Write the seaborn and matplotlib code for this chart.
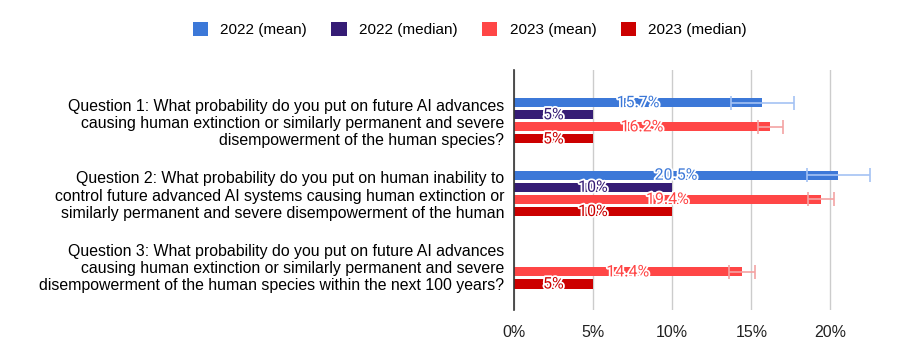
import numpy as np
import pandas as pd
import matplotlib.pyplot as plt
import matplotlib.patheffects as pe
import seaborn as sns

questions = [
    "Question 1: What probability do you put on future AI advances\n"
    "causing human extinction or similarly permanent and severe\n"
    "disempowerment of the human species?",
    "Question 2: What probability do you put on human inability to\n"
    "control future advanced AI systems causing human extinction or\n"
    "similarly permanent and severe disempowerment of the human",
    "Question 3: What probability do you put on future AI advances\n"
    "causing human extinction or similarly permanent and severe\n"
    "disempowerment of the human species within the next 100 years?",
]
series = ["2022 (mean)", "2022 (median)", "2023 (mean)", "2023 (median)"]

mean_2022 = [15.7, 20.5, np.nan]
median_2022 = [5, 10, np.nan]
mean_2023 = [16.2, 19.4, 14.4]
median_2023 = [5, 10, 5]

# confidence intervals on the means
ci_2022_low = [13.7, 18.5, np.nan]
ci_2022_high = [17.7, 22.5, np.nan]
ci_2023_low = [15.4, 18.6, 13.6]
ci_2023_high = [17.0, 20.2, 15.2]

colors = ["#3c78d8", "#351c75", "#ff4646", "#cc0000"]
err_colors = {"2022 (mean)": "#a4c2f4", "2023 (mean)": "#f4a3a3"}

values = [mean_2022, median_2022, mean_2023, median_2023]
rows = []
for s, vals in zip(series, values):
    for q, v in zip(questions, vals):
        rows.append({"question": q, "series": s, "value": v})
df = pd.DataFrame(rows).dropna()

errors = {
    "2022 (mean)": (ci_2022_low, ci_2022_high),
    "2023 (mean)": (ci_2023_low, ci_2023_high),
}

plt.rcParams["font.family"] = ["Liberation Sans", "DejaVu Sans"]
fig = plt.figure(figsize=(9, 3.52), dpi=100)
ax = fig.add_axes([0.571, 0.119, 0.401, 0.682])

sns.barplot(data=df, y="question", x="value", hue="series", order=questions,
            hue_order=series, palette=colors, orient="h", width=0.667, gap=0.25,
            errorbar=None, ax=ax, saturation=1)

for container, s, col in zip(ax.containers, series, colors):
    labels = [f"{v:g}%" for v in container.datavalues]
    txts = ax.bar_label(container, labels=labels, label_type="center", fontsize=11.5,
                        color=col, family=["Roboto", "DejaVu Sans"])
    for t in txts:
        t.set_path_effects([pe.withStroke(linewidth=2.6, foreground="white")])
    if s in errors:
        lo, hi = errors[s]
        for bar in container:
            yc = bar.get_y() + bar.get_height() / 2
            q = int(round(yc))
            ax.errorbar(x=(lo[q] + hi[q]) / 2, y=yc, xerr=(hi[q] - lo[q]) / 2,
                        fmt="none", ecolor=err_colors[s], elinewidth=1.2,
                        capsize=5, capthick=1.2, zorder=3)

ax.set_xlim(0, 22.8)
ax.set_ylim(2.61, -0.70)
ax.set_xticks([0, 5, 10, 15, 20])
ax.set_xticklabels([f"{t}%" for t in [0, 5, 10, 15, 20]], fontsize=11.5, color="#222222")
ax.xaxis.grid(True, color="#cccccc", linewidth=1)
ax.set_axisbelow(True)
ax.tick_params(axis="both", length=0)
ax.tick_params(axis="x", pad=11)
ax.tick_params(axis="y", pad=7, labelsize=11.4)
for t in ax.get_yticklabels():
    t.set_multialignment("right")
    t.set_linespacing(1.2)
ax.set_xlabel("")
ax.set_ylabel("")
for side in ["top", "right", "bottom"]:
    ax.spines[side].set_visible(False)
ax.spines["left"].set_color("#333333")
ax.spines["left"].set_linewidth(1.2)

sns.move_legend(ax, "center", bbox_to_anchor=(0.522, 0.915),
                bbox_transform=fig.transFigure, ncol=4, frameon=False, title=None,
                fontsize=11, handlelength=1.0, handleheight=1.0, columnspacing=1.6,
                handletextpad=0.8)

fig.savefig("out.png", dpi=100)
